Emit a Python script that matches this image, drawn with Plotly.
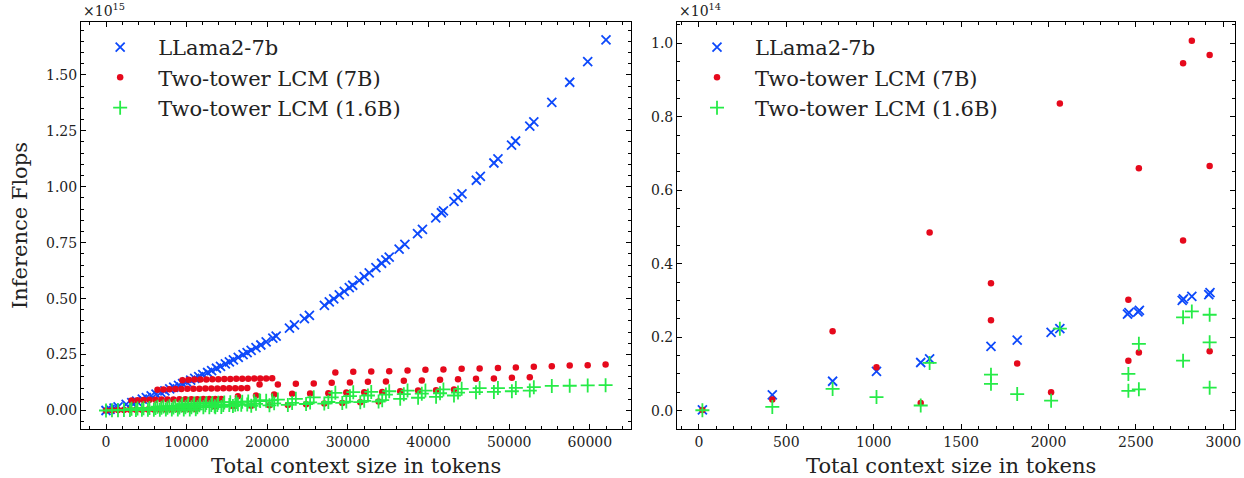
import plotly.graph_objects as go

FONT = "DejaVu Serif"
BLUE, RED, GREEN = "#0d49fb", "#e6091c", "#26eb47"

# ---------------- Left panel (values in units of 1e15 FLOPs) ----------------
llama_x = [0, 500, 1000, 1500, 2500, 3200, 3800, 4500, 5000, 5600, 6200, 6800, 7300, 7900,
           8400, 9000, 9500, 10000, 10500, 11000, 11500, 12000, 12600, 13100, 13700, 14200,
           14800, 15300, 15800, 16400, 17000, 17500, 18000, 18600, 19200,
           19860, 20690, 21100, 22750, 23370, 24600, 25220, 27080, 27690, 28240, 28930,
           29550, 30170, 30590, 31410, 32020, 32640, 33470, 34170, 34700, 35120, 36350,
           37060, 38630, 39240, 40890, 41590,
           41840, 43150, 43650, 44140, 45920, 46420, 48100, 48600, 50290, 50790, 52550,
           53050, 55280, 57500, 59730, 62000]
llama_y = [0.0, 0.0051, 0.0104, 0.0158, 0.0269, 0.0351, 0.0423, 0.0509, 0.0572, 0.0650,
           0.0729, 0.0811, 0.0880, 0.0965, 0.1038, 0.1126, 0.1201, 0.1278, 0.1356, 0.1435,
           0.1516, 0.1598, 0.1698, 0.1783, 0.1887, 0.1975, 0.2082, 0.2173, 0.2265, 0.2377,
           0.2492, 0.2588, 0.2686, 0.2806, 0.2927,
           0.3063, 0.3237, 0.3324, 0.3685, 0.3824, 0.4106, 0.4252, 0.4700, 0.4852, 0.4990,
           0.5165, 0.5325, 0.5487, 0.5597, 0.5816, 0.5982, 0.6152, 0.6383, 0.6580, 0.6732,
           0.6853, 0.7212, 0.7424, 0.7901, 0.8090, 0.8611, 0.8836,
           0.8917, 0.9348, 0.9515, 0.9680, 1.0289, 1.0463, 1.1059, 1.1239, 1.1857, 1.2043,
           1.2708, 1.2900, 1.3773, 1.4668, 1.5594, 1.6564]

# dense groups (short contexts)
grp1_x = [9474, 10216, 10958, 11700, 12443, 13185, 13927, 14669, 15411, 16153, 16895,
          17637, 18380, 19122, 19864, 20606]
grp2_x = [6382, 7124, 7866, 8608, 9350, 10092, 10835, 11577, 12319, 13061, 13803, 14545,
          15287, 16029, 16771, 17514]
grp3_x = [3166, 3909, 4651, 5393, 6135, 6877, 7619, 8361, 9103, 9845, 10587, 11329, 12071,
          12813, 13556, 14298]
grp4_x = [0, 742, 1484, 2226, 2968, 3710, 4452, 5194, 5936, 6678, 7420, 8162, 8904, 9646,
          10388, 11130]
# sparse groups (long contexts)
grpT_x = [28440, 30660, 32890, 35120, 37390, 39610, 41840, 44100, 46330, 48600, 50820,
          53050, 55280, 57500, 59730, 61950]
grpS2_x = [19040, 21310, 23540, 25760, 27990, 30250, 32480, 34710, 36930, 39160, 41420,
           43650, 45880, 48100, 50330, 52550]
grpS3_x = [16360, 18600, 20850, 23080, 25310, 27570, 29800, 32020, 34250, 36480, 38700,
           40930, 43150]
grpS4_x = [13470, 15740, 18010, 20270, 22550, 24810, 27070, 29300, 31530, 33800]

lcm7_grp1 = [0.135, 0.137, 0.138, 0.139, 0.139, 0.140, 0.140, 0.141, 0.141, 0.142, 0.142,
             0.142, 0.143, 0.143, 0.143, 0.144]
lcm7_grp2 = [0.093, 0.094, 0.095, 0.096, 0.096, 0.097, 0.097, 0.097, 0.098, 0.098, 0.098,
             0.099, 0.099, 0.099, 0.099, 0.100]
lcm7_grp3 = [0.045, 0.046, 0.047, 0.048, 0.048, 0.049, 0.049, 0.049, 0.050, 0.050, 0.050,
             0.050, 0.051, 0.051, 0.051, 0.051]
lcm7_grp4 = [0.000, 0.001, 0.002, 0.002, 0.003, 0.003, 0.003, 0.004, 0.004, 0.004, 0.004,
             0.004, 0.005, 0.005, 0.005, 0.005]
lcm7_grpT = [0.170, 0.1726, 0.174, 0.1756, 0.1786, 0.182, 0.183, 0.186, 0.1875, 0.190,
             0.192, 0.195, 0.198, 0.201, 0.202, 0.205]
lcm7_grpS2 = [0.116, 0.116, 0.119, 0.1205, 0.1236, 0.125, 0.128, 0.1295, 0.1326, 0.134,
              0.137, 0.140, 0.1414, 0.143, 0.146, 0.149]
lcm7_grpS3 = [0.064, 0.067, 0.071, 0.0745, 0.076, 0.077, 0.080, 0.082, 0.083, 0.086, 0.089,
              0.0906, 0.094]
lcm7_grpS4 = [0.019, 0.020, 0.021, 0.023, 0.025, 0.028, 0.031, 0.034, 0.037, 0.040]

lcm16_grp1 = [0.028, 0.030, 0.031, 0.032, 0.033, 0.034, 0.035, 0.036, 0.037, 0.038, 0.039,
              0.040, 0.041, 0.042, 0.043, 0.045]
lcm16_grp2 = [0.017, 0.018, 0.019, 0.020, 0.021, 0.021, 0.022, 0.023, 0.023, 0.024, 0.024,
              0.025, 0.025, 0.026, 0.026, 0.027]
lcm16_grp3 = [0.008, 0.009, 0.010, 0.011, 0.011, 0.012, 0.012, 0.013, 0.013, 0.014, 0.014,
              0.014, 0.015, 0.015, 0.015, 0.016]
lcm16_grp4 = [0.000, 0.001, 0.001, 0.002, 0.002, 0.002, 0.003, 0.003, 0.003, 0.003, 0.004,
              0.004, 0.004, 0.004, 0.004, 0.005]
lcm16_grpT = [0.079, 0.082, 0.083, 0.086, 0.089, 0.089, 0.094, 0.097, 0.100, 0.100, 0.101,
              0.104, 0.110, 0.1105, 0.112, 0.113]
lcm16_grpS2 = [0.046, 0.049, 0.052, 0.059, 0.059, 0.064, 0.067, 0.071, 0.073, 0.075, 0.077,
               0.080, 0.082, 0.083, 0.086, 0.089]
lcm16_grpS3 = [0.028, 0.030, 0.032, 0.034, 0.036, 0.038, 0.040, 0.043, 0.046, 0.052, 0.057,
               0.061, 0.067]
lcm16_grpS4 = [0.019, 0.020, 0.021, 0.023, 0.025, 0.029, 0.031, 0.034, 0.037, 0.040]

# ---------------- Right panel (values in units of 1e14 FLOPs) ----------------
r_llama_x = [20, 420, 765, 1016, 1269, 1320, 1671, 1821, 2015, 2065, 2452, 2460, 2512, 2520,
             2765, 2772, 2820, 2917, 2924]
r_llama_y = [0.002, 0.043, 0.080, 0.107, 0.131, 0.141, 0.175, 0.192, 0.213, 0.223, 0.263,
             0.267, 0.269, 0.273, 0.300, 0.304, 0.311, 0.316, 0.321]
r_lcm7_x = [20, 420, 765, 1016, 1269, 1320, 1671, 1671, 1821, 2015, 2065, 2457, 2457, 2517,
            2517, 2770, 2770, 2820, 2922, 2922, 2922]
r_lcm7_y = [0.002, 0.030, 0.216, 0.118, 0.021, 0.485, 0.347, 0.246, 0.128, 0.050, 0.836,
            0.302, 0.136, 0.660, 0.158, 0.946, 0.463, 1.007, 0.968, 0.666, 0.162]
r_lcm16_x = [20, 420, 765, 1016, 1269, 1320, 1671, 1671, 1821, 2015, 2065, 2457, 2457, 2517,
             2517, 2770, 2770, 2820, 2922, 2922, 2922]
r_lcm16_y = [0.001, 0.010, 0.059, 0.037, 0.014, 0.130, 0.098, 0.073, 0.045, 0.027, 0.223,
             0.100, 0.054, 0.182, 0.058, 0.254, 0.136, 0.270, 0.261, 0.186, 0.0625]

names = ["LLama2-7b", "Two-tower LCM (7B)", "Two-tower LCM (1.6B)"]
x_title = "Total context size in tokens"
y_title = "Inference Flops"

lcm7_x = grp1_x + grp2_x + grp3_x + grp4_x + grpT_x + grpS2_x + grpS3_x + grpS4_x
lcm7_y = (lcm7_grp1 + lcm7_grp2 + lcm7_grp3 + lcm7_grp4 + lcm7_grpT + lcm7_grpS2
          + lcm7_grpS3 + lcm7_grpS4)
lcm16_x = lcm7_x
lcm16_y = (lcm16_grp1 + lcm16_grp2 + lcm16_grp3 + lcm16_grp4 + lcm16_grpT + lcm16_grpS2
           + lcm16_grpS3 + lcm16_grpS4)


def marker(kind, color):
    if kind == "x":
        return dict(symbol="x-thin", size=9, color=color, line=dict(color=color, width=1.8))
    if kind == "+":
        return dict(symbol="cross-thin", size=10, color=color, line=dict(color=color, width=1.8))
    return dict(symbol="circle", size=6.5, color=color, line=dict(width=0))


fig = go.Figure()
panels = [
    ("x", "y", "legend", [(llama_x, llama_y), (lcm7_x, lcm7_y), (lcm16_x, lcm16_y)]),
    ("x2", "y2", "legend2", [(r_llama_x, r_llama_y), (r_lcm7_x, r_lcm7_y), (r_lcm16_x, r_lcm16_y)]),
]
styles = [("x", BLUE), ("o", RED), ("+", GREEN)]
for xa, ya, lg, series in panels:
    for i, ((sx, sy), (kind, col)) in enumerate(zip(series, styles)):
        fig.add_trace(go.Scatter(
            x=sx, y=sy, mode="markers", name=names[i], marker=marker(kind, col),
            xaxis=xa, yaxis=ya, legend=lg, legendgroup=f"{lg}{i}",
        ))

axis_common = dict(
    showline=True, linecolor="black", linewidth=1, mirror="allticks",
    ticks="inside", ticklen=5, tickwidth=1, tickcolor="black",
    showgrid=False, zeroline=False, automargin=False,
    tickfont=dict(family=FONT, size=14, color="#222"),
)
title_font = dict(family=FONT, size=21, color="#222")
legend_common = dict(xanchor="left", yanchor="top", traceorder="grouped",
                     tracegroupgap=0, itemwidth=66, bgcolor="rgba(0,0,0,0)",
                     font=dict(family=FONT, size=21, color="#222"))

fig.update_layout(
    width=1244, height=478,
    margin=dict(l=81, r=9, t=22, b=49, autoexpand=False),
    paper_bgcolor="white", plot_bgcolor="white",
    font=dict(family=FONT, color="#222"),
    xaxis=dict(domain=[0, 0.4766], range=[-3100, 65100], tick0=0, dtick=10000,
               tickformat="d", minor=dict(ticks="inside", dtick=2000, ticklen=3,
                                          tickcolor="black"),
               anchor="y", **axis_common),
    yaxis=dict(range=[-0.0827, 1.736], tick0=0, dtick=0.25, tickformat=".2f",
               minor=dict(ticks="inside", dtick=0.05, ticklen=3, tickcolor="black"),
               anchor="x", **axis_common),
    xaxis2=dict(domain=[0.5165, 1], range=[-125, 3067], tick0=0, dtick=500,
                tickformat="d", minor=dict(ticks="inside", dtick=100, ticklen=3,
                                           tickcolor="black"),
                anchor="y2", **axis_common),
    yaxis2=dict(range=[-0.05, 1.058], tick0=0, dtick=0.2, tickformat=".1f",
                minor=dict(ticks="inside", dtick=0.05, ticklen=3, tickcolor="black"),
                anchor="x2", **axis_common),
    legend=dict(x=0.001, y=0.988, **legend_common),
    legend2=dict(x=0.5182, y=0.988, **legend_common),
    annotations=[
        dict(text="×10<sup>15</sup>", x=0, y=1, xref="paper", yref="paper",
             xanchor="left", yanchor="bottom", showarrow=False, yshift=1,
             font=dict(family=FONT, size=14, color="#222")),
        dict(text="×10<sup>14</sup>", x=0.5165, y=1, xref="paper", yref="paper",
             xanchor="left", yanchor="bottom", showarrow=False, yshift=1,
             font=dict(family=FONT, size=14, color="#222")),
        dict(text=x_title, x=0.2383, y=-0.0909, xref="paper", yref="paper",
             xanchor="center", yanchor="middle", showarrow=False, font=title_font),
        dict(text=x_title, x=0.7539, y=-0.0909, xref="paper", yref="paper",
             xanchor="center", yanchor="middle", showarrow=False, font=title_font),
        dict(text=y_title, x=-0.0529, y=0.501, xref="paper", yref="paper",
             xanchor="center", yanchor="middle", textangle=-90, showarrow=False,
             font=title_font),
    ],
)

fig.write_html("out.html", config={"displayModeBar": False},
               post_script="document.body.style.margin='0px';")
